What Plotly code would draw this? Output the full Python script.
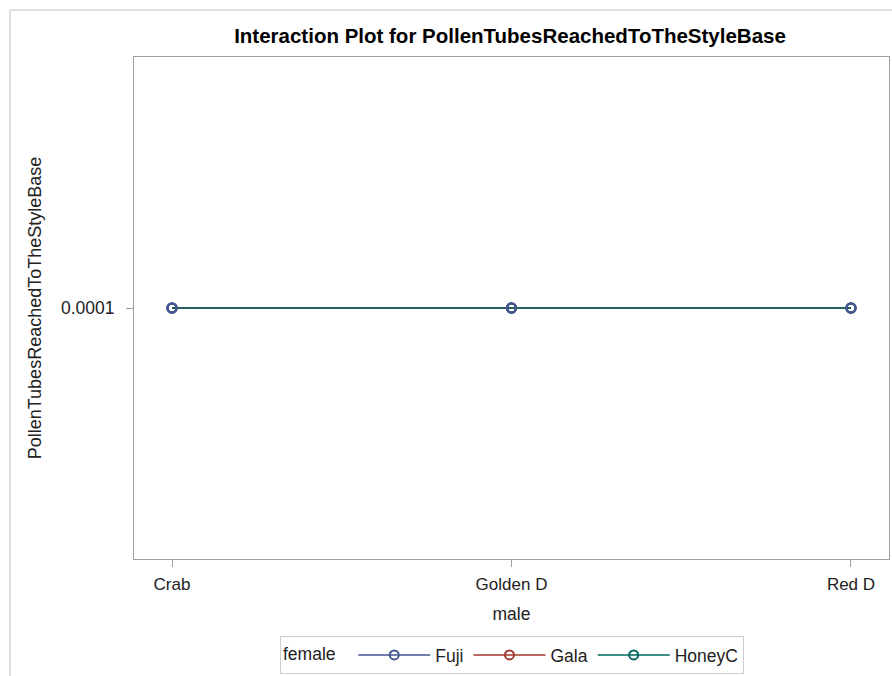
import plotly.graph_objects as go

males = ["Crab", "Golden D", "Red D"]
females = ["Fuji", "Gala", "HoneyC"]
fuji = [0.0001, 0.0001, 0.0001]
gala = [0.0001, 0.0001, 0.0001]
honeyc = [0.0001, 0.0001, 0.0001]
colors = {"Fuji": "#445694", "Gala": "#A23A2E", "HoneyC": "#01665E"}
series = {"Fuji": fuji, "Gala": gala, "HoneyC": honeyc}

FONT = "Liberation Sans, Arial, sans-serif"

fig = go.Figure()
xidx = list(range(len(males)))
for name in females:
    fig.add_trace(go.Scatter(
        x=xidx, y=series[name], mode="lines+markers", name=name,
        line=dict(color=colors[name], width=1.5),
        marker=dict(symbol="circle-open", size=9, color=colors[name], line=dict(width=2)),
    ))
# markers of first series on top, as in the reference
fig.add_trace(go.Scatter(
    x=xidx, y=fuji, mode="markers", showlegend=False, hoverinfo="skip",
    marker=dict(symbol="circle-open", size=9, color=colors["Fuji"], line=dict(width=2.5)),
))

W, H = 892, 676
L, R, T, B = 134, 889, 57, 559
def px(x):
    return (x - L) / (R - L)
def py(y):
    return (B - y) / (B - T)

shapes = [
    dict(type="line", xref="paper", yref="paper", x0=px(10), x1=px(892), y0=py(10), y1=py(10),
         line=dict(color="#d4d4d4", width=1.5)),
    dict(type="line", xref="paper", yref="paper", x0=px(10), x1=px(10), y0=py(10), y1=py(676),
         line=dict(color="#d4d4d4", width=1.5)),
]

fig.update_layout(
    width=W, height=H,
    margin=dict(l=L, r=W - R, t=T, b=H - B, autoexpand=False),
    paper_bgcolor="white", plot_bgcolor="white",
    font=dict(family=FONT, size=17, color="#222222"),
    title=dict(text="<b>Interaction Plot for PollenTubesReachedToTheStyleBase</b>",
               x=px(510), xref="paper", xanchor="center", y=1 - 36 / H, yanchor="middle",
               font=dict(family=FONT, size=20.5, color="black")),
    showlegend=True,
    legend=dict(orientation="h", x=px(512), xanchor="center", y=py(655), yanchor="middle",
                bordercolor="#cccccc", borderwidth=1, itemwidth=72,
                title=dict(text="female  ", font=dict(size=17.5, color="#222222")),
                font=dict(size=17.5, color="#222222"), tracegroupgap=0),
    shapes=shapes,
)
fig.update_xaxes(
    range=[-0.112, 2.112], tickvals=xidx, ticktext=males,
    showline=True, linecolor="#a0a0a0", linewidth=1, mirror=True,
    ticks="outside", ticklen=7, tickcolor="#a0a0a0", showgrid=False, zeroline=False,
    automargin=False, ticklabelstandoff=3,
    title=dict(text="male", standoff=14, font=dict(size=17.5, color="#222222")),
    tickfont=dict(size=17, color="#222222"),
)
fig.update_yaxes(
    range=[0.00005, 0.00015], tickvals=[0.0001], ticktext=["0.0001"],
    showline=True, linecolor="#a0a0a0", linewidth=1, mirror=True,
    ticks="outside", ticklen=7, tickcolor="#a0a0a0", showgrid=False, zeroline=False,
    automargin=False, ticklabelstandoff=8,
    title=dict(text="PollenTubesReachedToTheStyleBase", standoff=14, font=dict(size=18, color="#222222")),
    tickfont=dict(size=17.5, color="#222222"),
)
fig.write_html("out.html", config={"displayModeBar": False},
               post_script="document.body.style.margin='0';")
